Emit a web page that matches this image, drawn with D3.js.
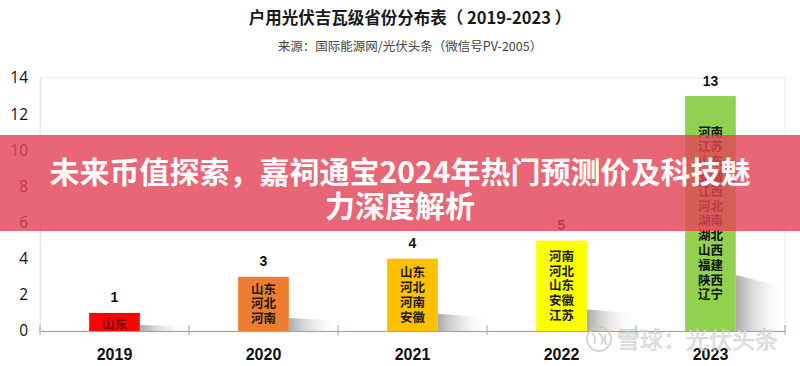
<!DOCTYPE html>
<html>
<head>
<meta charset="utf-8">
<script src="https://cdn.jsdelivr.net/npm/d3@7/dist/d3.min.js"></script>
<style>
  html, body { margin: 0; padding: 0; background: #fff; }
  svg { display: block; }
</style>
</head>
<body>
<svg id="chart" width="800" height="366"></svg>
<script>
// ---- data ----
const years = ["2019", "2020", "2021", "2022", "2023"];
const counts = [1, 3, 4, 5, 13];
const provinces = [
  ["山东"],
  ["山东", "河北", "河南"],
  ["山东", "河北", "河南", "安徽"],
  ["河南", "河北", "山东", "安徽", "江苏"],
  ["河南", "江苏", "山东", "安徽", "江西", "河北", "湖南", "湖北", "山西", "福建", "陕西", "辽宁"]
];
const yTicks = [0, 2, 4, 6, 8, 10, 12, 14];
const titleText = "户用光伏吉瓦级省份分布表（ 2019-2023 ）";
const subtitleText = "来源：国际能源网/光伏头条（微信号PV-2005）";
const bannerLines = ["未来币值探索，嘉祠通宝2024年热门预测价及科技魅", "力深度解析"];
const watermarkText = "雪球：光伏头条";

// ---- styles ----
const barColors = ["#ff0000", "#ed7d31", "#ffc000", "#ffff00", "#92d050"];
const labelColors = ["#7a0000", "#1a1a1a", "#1a1a1a", "#1a1a1a", "#111"];
const cjk = "'Noto Sans CJK SC', 'Noto Sans', sans-serif";
const latin = "'Liberation Sans', Arial, sans-serif";

const svg = d3.select("#chart");
const plot = { left: 40, right: 785, top: 78, bottom: 331 };

const x = d3.scaleBand().domain(years).range([plot.left, plot.right])
  .paddingInner(0.66).paddingOuter(0.33);
const y = d3.scaleLinear().domain([0, 14]).range([plot.bottom, plot.top]);

// defs: shadow gradient
const defs = svg.append("defs");
const g1 = defs.append("linearGradient").attr("id", "shadowGrad")
  .attr("x1", "0").attr("y1", "0").attr("x2", "1").attr("y2", "0");
g1.append("stop").attr("offset", "0").attr("stop-color", "#9a9a9a").attr("stop-opacity", 0.85);
g1.append("stop").attr("offset", "1").attr("stop-color", "#ffffff").attr("stop-opacity", 0);

// title
svg.append("text").attr("x", 410).attr("y", 24).attr("text-anchor", "middle")
  .attr("font-family", cjk).attr("font-weight", "bold").attr("font-size", 16.5)
  .attr("fill", "#1a1a1a").text(titleText);
svg.append("text").attr("x", 410).attr("y", 51).attr("text-anchor", "middle")
  .attr("font-family", cjk).attr("font-size", 12.5)
  .attr("fill", "#444").text(subtitleText);

// plot frame
svg.append("rect").attr("x", plot.left).attr("y", plot.top)
  .attr("width", plot.right - plot.left).attr("height", plot.bottom - plot.top)
  .attr("fill", "none").attr("stroke", "#ececec").attr("stroke-width", 1);

// y axis
const yAxis = d3.axisLeft(y).tickValues(yTicks).tickSize(0).tickPadding(12);
const yg = svg.append("g").attr("transform", `translate(${plot.left},0)`).call(yAxis);
yg.select(".domain").attr("stroke", "#e6e6e6");
yg.selectAll("text").attr("font-family", "'Open Sans', " + latin)
  .attr("font-size", 15.5).attr("fill", "#111");

// shadows
const base = y(0);
svg.append("g").selectAll("polygon").data(years).join("polygon")
  .attr("points", (d, i) => {
    const x1 = x(d) + x.bandwidth();
    const h = base - y(counts[i]);
    const sh = Math.min(Math.max(h * 0.24, 6), 56);
    const sw = 50;
    return [[x1, base], [x1, base - sh], [x1 + sw, base - sh * 0.78], [x1 + sw, base]].map(p => p.join(",")).join(" ");
  })
  .attr("fill", "url(#shadowGrad)");

// bars
svg.append("g").selectAll("rect").data(years).join("rect")
  .attr("x", d => x(d)).attr("y", (d, i) => y(counts[i]))
  .attr("width", x.bandwidth()).attr("height", (d, i) => base - y(counts[i]))
  .attr("fill", (d, i) => barColors[i]);

// x axis
const xAxis = d3.axisBottom(x).tickSize(0).tickPadding(18);
const xg = svg.append("g").attr("transform", `translate(0,${base})`).call(xAxis);
xg.select(".domain").attr("stroke", "#8ea9bf").attr("stroke-width", 1.2);
xg.selectAll("text").attr("font-family", latin).attr("font-weight", "bold")
  .attr("font-size", 16).attr("fill", "#111");
// category boundary ticks
const step = x.step();
const boundaries = d3.range(0, years.length + 1).map(i => plot.left + i * step);
svg.append("g").selectAll("line").data(boundaries).join("line")
  .attr("x1", d => d).attr("x2", d => d).attr("y1", base - 6).attr("y2", base + 4)
  .attr("stroke", "#8ea9bf").attr("stroke-width", 1);

// value labels
svg.append("g").selectAll("text").data(years).join("text")
  .attr("x", d => x(d) + x.bandwidth() / 2).attr("y", (d, i) => y(counts[i]) - 10.5)
  .attr("text-anchor", "middle").attr("font-family", latin).attr("font-weight", "bold")
  .attr("font-size", 14).attr("fill", "#111").text((d, i) => counts[i]);

// province labels
const lineH = 14.8;
years.forEach((yr, i) => {
  const list = provinces[i];
  const cx = x(yr) + x.bandwidth() / 2;
  const mid = (y(counts[i]) + base) / 2 + (i === 0 ? 3 : 0);
  const start = mid - (list.length - 1) * lineH / 2;
  svg.append("g").selectAll("text").data(list).join("text")
    .attr("x", cx).attr("y", (d, j) => start + j * lineH)
    .attr("dy", "0.36em").attr("text-anchor", "middle")
    .attr("font-family", cjk).attr("font-weight", "bold").attr("font-size", 12.5)
    .attr("fill", labelColors[i]).text(d => d);
});

// watermark
const wm = svg.append("g").attr("opacity", 0.75);
wm.append("circle").attr("cx", 599).attr("cy", 339).attr("r", 12)
  .attr("fill", "none").attr("stroke", "#c8c8c8").attr("stroke-width", 2);
wm.append("path").attr("d", "M592,333 Q597,337 594,344 M599,333 Q605,339 601,345 M606,334 Q603,340 607,345")
  .attr("fill", "none").attr("stroke", "#c8c8c8").attr("stroke-width", 1.8);
wm.append("text").attr("x", 617).attr("y", 348).attr("font-family", cjk)
  .attr("font-size", 23).attr("fill", "#dcdcdc").attr("stroke", "#c4c4c4")
  .attr("stroke-width", 0.6).text(watermarkText);

// overlay banner
svg.append("rect").attr("x", 0).attr("y", 135).attr("width", 800).attr("height", 96)
  .attr("fill", "rgb(228,68,88)").attr("fill-opacity", 0.82);
svg.append("g").selectAll("text").data(bannerLines).join("text")
  .attr("x", 400).attr("y", (d, i) => 172 + i * 34).attr("dy", "0.36em")
  .attr("text-anchor", "middle").attr("font-family", cjk).attr("font-weight", "bold")
  .attr("font-size", 30).attr("fill", "#fff").text(d => d);
</script>
</body>
</html>
